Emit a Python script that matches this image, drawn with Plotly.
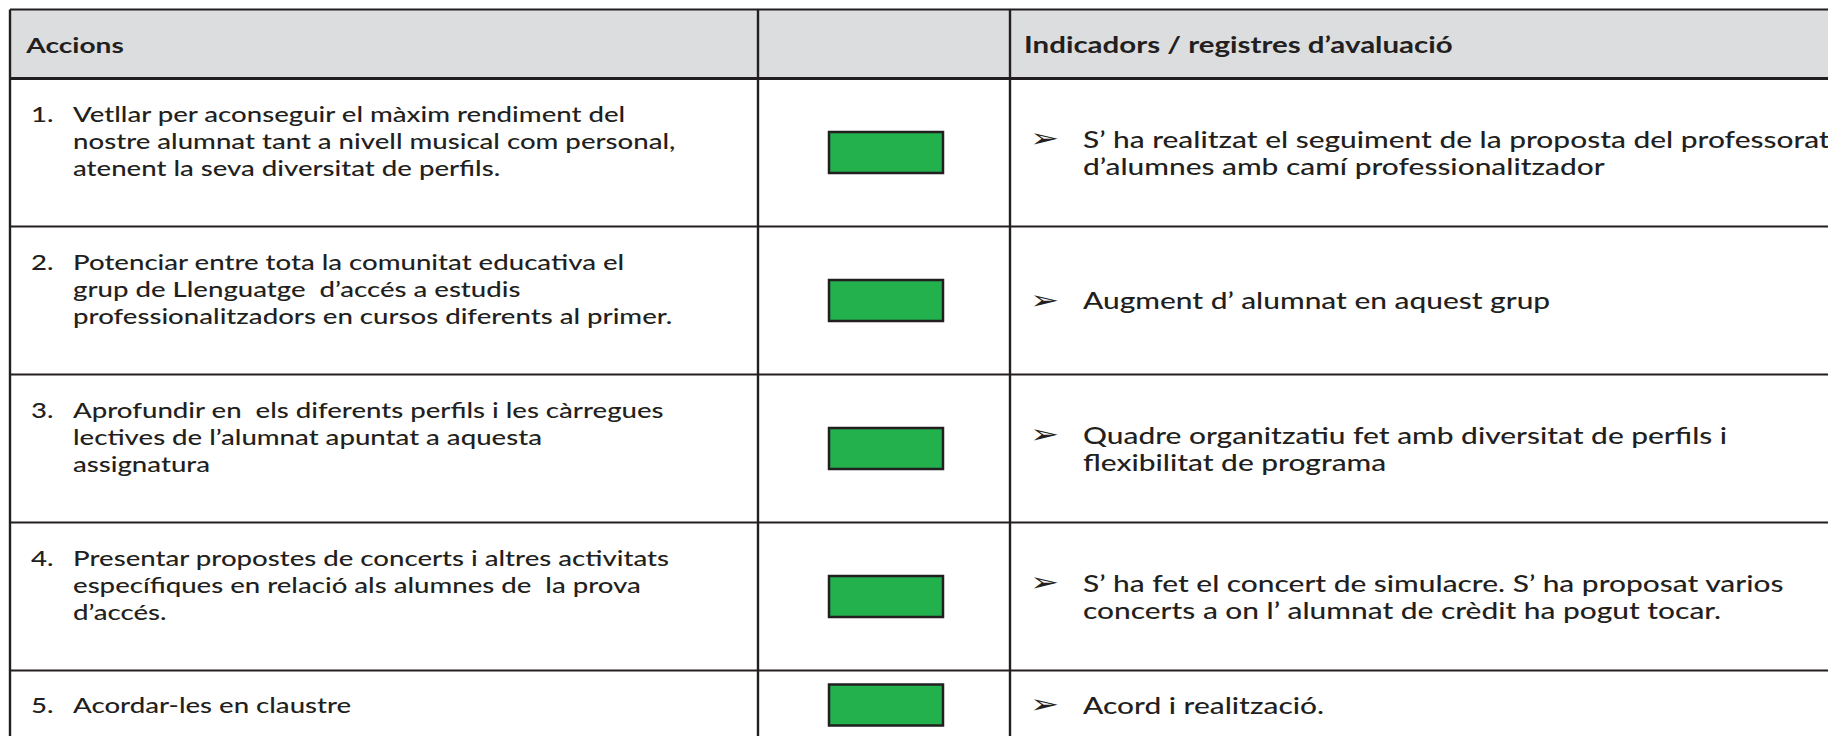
import plotly.graph_objects as go

# ---------------- data ----------------
header_labels = ["Accions", "", "Indicadors / registres d’avaluació"]

action_numbers = ["1.", "2.", "3.", "4.", "5."]

action_lines = [
    ["Vetllar per aconseguir el màxim rendiment del",
     "nostre alumnat tant a nivell musical com personal,",
     "atenent la seva diversitat de perfils."],
    ["Potenciar entre tota la comunitat educativa el",
     "grup de Llenguatge \u00a0d’accés a estudis",
     "professionalitzadors en cursos diferents al primer."],
    ["Aprofundir en \u00a0els diferents perfils i les càrregues",
     "lectives de l’alumnat apuntat a aquesta",
     "assignatura"],
    ["Presentar propostes de concerts i altres activitats",
     "específiques en relació als alumnes de \u00a0la prova",
     "d’accés."],
    ["Acordar-les en claustre"],
]

indicator_lines = [
    ["S’ ha realitzat el seguiment de la proposta del professorat",
     "d’alumnes amb camí professionalitzador"],
    ["Augment d’ alumnat en aquest grup"],
    ["Quadre organitzatiu fet amb diversitat de perfils i",
     "flexibilitat de programa"],
    ["S’ ha fet el concert de simulacre. S’ ha proposat varios",
     "concerts a on l’ alumnat de crèdit ha pogut tocar."],
    ["Acord i realització."],
]

status = ["assolit", "assolit", "assolit", "assolit", "assolit"]
status_colors = {"assolit": "#22b14c"}

# ---------------- layout constants (page pixels) ----------------
W, H = 1836, 736
OFF = 8                      # browser body margin
X_LEFT, X_COL1, X_COL2, X_RIGHT = 10, 758, 1010, 1900
Y_TOP = 9.5
ROW_PAD = 29.5
ROW_LINE = 39.5
ACT_FIRST = 35               # first action line centre below row top
STEP = 27                    # text line spacing
INK = "#231f20"
HEADER_BG = "#dcdddf"
FONT = "Lato"
FS_ACT = 20.6
FS_IND = 22.3
STRETCH = 1.34               # horizontal stretch of the reference text

n_rows_lines = [1] + [max(len(a), len(b)) for a, b in zip(action_lines, indicator_lines)]
row_tops = [Y_TOP]
for n in n_rows_lines:
    row_tops.append(row_tops[-1] + ROW_PAD + ROW_LINE * n)

fig = go.Figure()
shapes = []
annotations = []

shapes.append(dict(type="rect", xref="x", yref="y", x0=X_LEFT, x1=X_RIGHT,
                   y0=row_tops[0], y1=row_tops[1], fillcolor=HEADER_BG,
                   line=dict(width=0), layer="below"))

for i, y in enumerate(row_tops):
    shapes.append(dict(type="line", xref="x", yref="y", x0=X_LEFT, x1=X_RIGHT,
                       y0=y, y1=y, line=dict(color=INK, width=3 if i == 1 else 1.8)))
for x in (X_LEFT, X_COL1, X_COL2):
    shapes.append(dict(type="line", xref="x", yref="y", x0=x, x1=x,
                       y0=row_tops[0], y1=row_tops[-1], line=dict(color=INK, width=2.4)))


def add_text(x, y, txt, size, bold=False, family=FONT):
    annotations.append(dict(x=x, y=y, xref="x", yref="y", text=txt, showarrow=False,
                            xanchor="left", yanchor="middle",
                            font=dict(family=family, size=size, color=INK,
                                      weight=700 if bold else 500)))


def centred(r, n, step):
    mid = (row_tops[r] + row_tops[r + 1]) / 2
    return [mid + (k - (n - 1) / 2) * step for k in range(n)]


hy = centred(0, 1, 0)[0]
add_text(23, hy, header_labels[0], FS_ACT + 0.4, bold=True)
add_text(1021.5, hy, header_labels[2], 22, bold=True)

BOX_W, BOX_H = 114, 41
box_cx = (X_COL1 + X_COL2) / 2 + 2
for i in range(len(action_lines)):
    r = i + 1
    if len(action_lines[i]) == 1:
        ys = centred(r, 1, 0)
    else:
        ys = [row_tops[r] + ACT_FIRST + k * STEP for k in range(len(action_lines[i]))]
    add_text(29, ys[0], action_numbers[i], FS_ACT)
    for y, t in zip(ys, action_lines[i]):
        add_text(71, y, t, FS_ACT)
    ys = centred(r, len(indicator_lines[i]), STEP)
    add_text(1028, ys[0] - 1, "➢", 26, family="DejaVu Sans")
    for y, t in zip(ys, indicator_lines[i]):
        add_text(1081, y, t, FS_IND)
    cy = (row_tops[r] + row_tops[r + 1]) / 2
    shapes.append(dict(type="rect", xref="x", yref="y",
                       x0=box_cx - BOX_W / 2, x1=box_cx + BOX_W / 2,
                       y0=cy - BOX_H / 2, y1=cy + BOX_H / 2,
                       fillcolor=status_colors[status[i]],
                       line=dict(color=INK, width=2.5)))

fig.update_layout(
    width=W, height=H, margin=dict(l=0, r=0, t=0, b=0),
    paper_bgcolor="white", plot_bgcolor="white",
    xaxis=dict(range=[OFF, W + OFF], visible=False, fixedrange=True),
    yaxis=dict(range=[H + OFF, OFF], visible=False, fixedrange=True),
    shapes=shapes, annotations=annotations, showlegend=False,
)

stretch_js = (
    "var s=document.createElement('style');"
    "s.textContent='.annotation-text{transform-box:fill-box !important;"
    "transform-origin:0% 50% !important;transform:scaleX(%s) !important;}';"
    "document.head.appendChild(s);"
).replace("%s", str(STRETCH))

fig.write_html("out.html", post_script=stretch_js)
